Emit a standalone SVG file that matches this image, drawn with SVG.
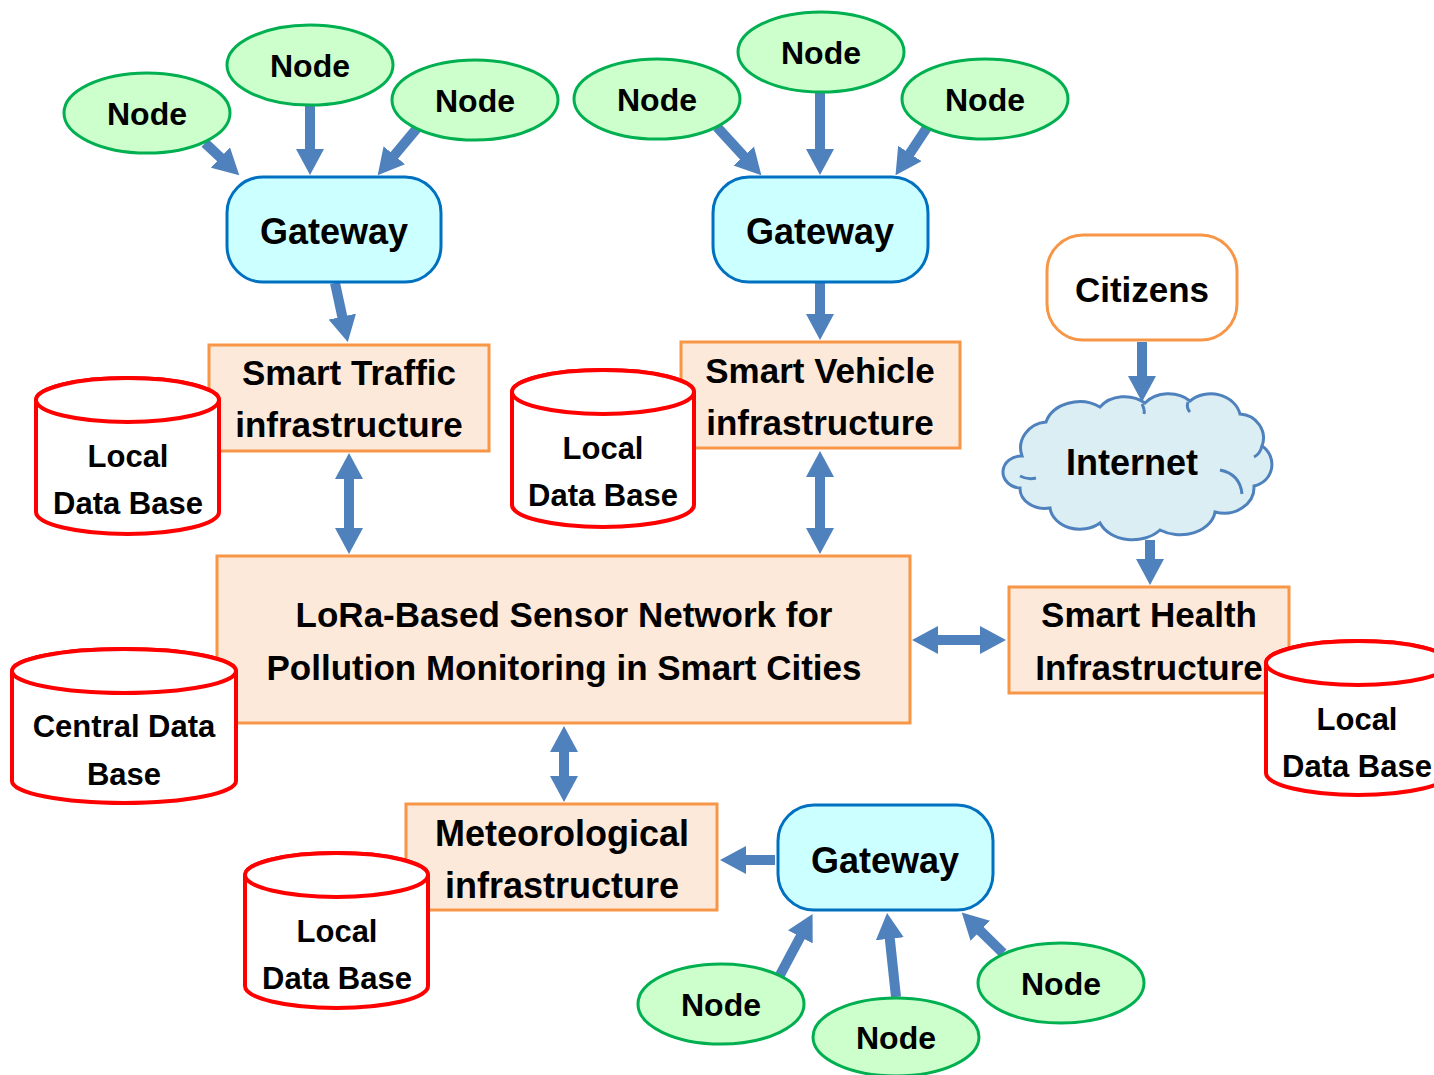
<svg xmlns="http://www.w3.org/2000/svg" width="1434" height="1075" viewBox="0 0 1434 1075">
<style>
text{font-family:"Liberation Sans",Arial,sans-serif;font-weight:bold;fill:#000;text-anchor:middle}
.node{fill:#CCFFCC;stroke:#00B050;stroke-width:3}
.gw{fill:#CCFFFF;stroke:#0070C0;stroke-width:3}
.box{fill:#FDE9D9;stroke:#F79646;stroke-width:3}
.db{fill:#FFFFFF;stroke:#FF0000;stroke-width:4}
.cit{fill:#FFFFFF;stroke:#F79646;stroke-width:3}
.cloud{fill:#DAEEF3;stroke:#4F81BD;stroke-width:3}
.cl{fill:none;stroke:#4F81BD;stroke-width:3}
.t32{font-size:32px}.t35{font-size:35px}.t36{font-size:36px}.t31{font-size:31px}
.ar{stroke:#4F81BD;stroke-width:10;fill:none;marker-end:url(#ah)}
.ar2{stroke:#4F81BD;stroke-width:10;fill:none;marker-end:url(#ah);marker-start:url(#ah)}
</style>
<defs>
<marker id="ah" viewBox="0 0 26 28" refX="1" refY="14" markerWidth="26" markerHeight="28" markerUnits="userSpaceOnUse" orient="auto-start-reverse">
<path d="M0,0 L26,14 L0,28 Z" fill="#4F81BD"/>
</marker>
</defs>
<rect width="1434" height="1075" fill="#FFFFFF"/>

<g id="connectors">
<line class="ar" x1="205" y1="143" x2="221.1" y2="158.2"/>
<line class="ar" x1="310" y1="105" x2="310" y2="150"/>
<line class="ar" x1="418" y1="127" x2="393.7" y2="156.1"/>
<line class="ar" x1="335" y1="283" x2="342.5" y2="317.6"/>
<line class="ar2" x1="349" y1="478" x2="349" y2="529"/>
<line class="ar" x1="717" y1="127" x2="744.4" y2="156.8"/>
<line class="ar" x1="820" y1="92" x2="820" y2="150"/>
<line class="ar" x1="928" y1="126" x2="909.3" y2="154.3"/>
<line class="ar" x1="820" y1="283" x2="820" y2="315"/>
<line class="ar2" x1="820" y1="476" x2="820" y2="529"/>
<line class="ar" x1="1142" y1="342" x2="1142" y2="377"/>
<line class="ar" x1="1150" y1="540" x2="1150" y2="560"/>
<line class="ar2" x1="937" y1="640" x2="981" y2="640"/>
<line class="ar2" x1="564" y1="751" x2="564" y2="777"/>
<line class="ar" x1="775" y1="860" x2="745" y2="860"/>
<line class="ar" x1="780" y1="975" x2="800.8" y2="936"/>
<line class="ar" x1="896" y1="997" x2="889.7" y2="937.8"/>
<line class="ar" x1="1003" y1="953" x2="979.6" y2="930.1"/>
</g>

<g id="node-tl1"><ellipse class="node" cx="147" cy="113" rx="83" ry="40"/><text class="t32" x="147" y="125">Node</text></g>
<g id="node-tl2"><ellipse class="node" cx="310" cy="65" rx="83" ry="40"/><text class="t32" x="310" y="77">Node</text></g>
<g id="node-tl3"><ellipse class="node" cx="475" cy="100" rx="83" ry="40"/><text class="t32" x="475" y="112">Node</text></g>
<g id="gateway1"><rect class="gw" x="227" y="177" width="214" height="105" rx="36"/><text class="t36" x="334" y="244">Gateway</text></g>

<g id="node-tm1"><ellipse class="node" cx="657" cy="99" rx="83" ry="40"/><text class="t32" x="657" y="111">Node</text></g>
<g id="node-tm2"><ellipse class="node" cx="821" cy="52" rx="83" ry="40"/><text class="t32" x="821" y="64">Node</text></g>
<g id="node-tm3"><ellipse class="node" cx="985" cy="99" rx="83" ry="40"/><text class="t32" x="985" y="111">Node</text></g>
<g id="gateway2"><rect class="gw" x="713" y="177" width="215" height="105" rx="36"/><text class="t36" x="820" y="244">Gateway</text></g>

<g id="smart-traffic"><rect class="box" x="209" y="345" width="280" height="106"/><text class="t35" x="349" y="385">Smart Traffic</text><text class="t35" x="349" y="437">infrastructure</text></g>
<g id="db-traffic">
<path class="db" d="M36,400 L36,512 A91.5,22 0 0 0 219,512 L219,400 A91.5,22 0 0 0 36,400 Z"/>
<ellipse class="db" cx="127.5" cy="400" rx="91.5" ry="22"/>
<text class="t31" x="128" y="467">Local</text><text class="t31" x="128" y="514">Data Base</text>
</g>

<g id="smart-vehicle"><rect class="box" x="681" y="342" width="279" height="106"/><text class="t35" x="820" y="383">Smart Vehicle</text><text class="t35" x="820" y="435">infrastructure</text></g>
<g id="db-vehicle">
<path class="db" d="M512,392 L512,505 A91,22 0 0 0 694,505 L694,392 A91,22 0 0 0 512,392 Z"/>
<ellipse class="db" cx="603" cy="392" rx="91" ry="22"/>
<text class="t31" x="603" y="459">Local</text><text class="t31" x="603" y="506">Data Base</text>
</g>

<g id="citizens"><rect class="cit" x="1047" y="235" width="190" height="105" rx="36"/><text class="t35" x="1142" y="302">Citizens</text></g>
<g id="internet">
<path class="cloud" d="M1022,456 A28,26 0 0 1 1046,422 A35,28 0 0 1 1100,407 A30,24 0 0 1 1145,403 A30,24 0 0 1 1190,401 A30,26 0 0 1 1240,414 A25,24 0 0 1 1262,446 A22,22 0 0 1 1254,486 A30,26 0 0 1 1215,512 A35,26 0 0 1 1160,530 A35,26 0 0 1 1100,523 A30,24 0 0 1 1050,508 A25,20 0 0 1 1020,488 A18,16 0 0 1 1022,456 Z"/>
<path class="cl" d="M1020,476 Q1028,480 1036,478"/>
<path class="cl" d="M1220,470 Q1240,474 1242,494"/>
<path class="cl" d="M1262,446 Q1260,454 1254,457"/>
<path class="cl" d="M1142,404 Q1145,410 1144,414"/>
<path class="cl" d="M1188,402 Q1186,408 1190,412"/>
<text class="t36" x="1132" y="475">Internet</text>
</g>

<g id="smart-health"><rect class="box" x="1009" y="587" width="280" height="106"/><text class="t35" x="1149" y="627">Smart Health</text><text class="t35" x="1149" y="680">Infrastructure</text></g>
<g id="db-health">
<path class="db" d="M1266,663 L1266,773 A92,22 0 0 0 1450,773 L1450,663 A92,22 0 0 0 1266,663 Z"/>
<ellipse class="db" cx="1358" cy="663" rx="92" ry="22"/>
<text class="t31" x="1357" y="730">Local</text><text class="t31" x="1357" y="777">Data Base</text>
</g>

<g id="central"><rect class="box" x="217" y="556" width="693" height="167"/><text class="t35" x="564" y="627">LoRa-Based Sensor Network for</text><text class="t35" x="564" y="680">Pollution Monitoring in Smart Cities</text></g>
<g id="db-central">
<path class="db" d="M12,671 L12,781 A112,22 0 0 0 236,781 L236,671 A112,22 0 0 0 12,671 Z"/>
<ellipse class="db" cx="124" cy="671" rx="112" ry="22"/>
<text class="t31" x="124" y="737">Central Data</text><text class="t31" x="124" y="785">Base</text>
</g>

<g id="meteorological"><rect class="box" x="406" y="804" width="311" height="106"/><text class="t36" x="562" y="846">Meteorological</text><text class="t36" x="562" y="898">infrastructure</text></g>
<g id="db-meteo">
<path class="db" d="M245,875 L245,986 A91.5,22 0 0 0 428,986 L428,875 A91.5,22 0 0 0 245,875 Z"/>
<ellipse class="db" cx="336.5" cy="875" rx="91.5" ry="22"/>
<text class="t31" x="337" y="942">Local</text><text class="t31" x="337" y="989">Data Base</text>
</g>

<g id="gateway3"><rect class="gw" x="778" y="805" width="215" height="105" rx="36"/><text class="t36" x="885" y="873">Gateway</text></g>
<g id="node-b1"><ellipse class="node" cx="721" cy="1004" rx="83" ry="40"/><text class="t32" x="721" y="1016">Node</text></g>
<g id="node-b2"><ellipse class="node" cx="896" cy="1037" rx="83" ry="39"/><text class="t32" x="896" y="1049">Node</text></g>
<g id="node-b3"><ellipse class="node" cx="1061" cy="983" rx="83" ry="40"/><text class="t32" x="1061" y="995">Node</text></g>
</svg>
